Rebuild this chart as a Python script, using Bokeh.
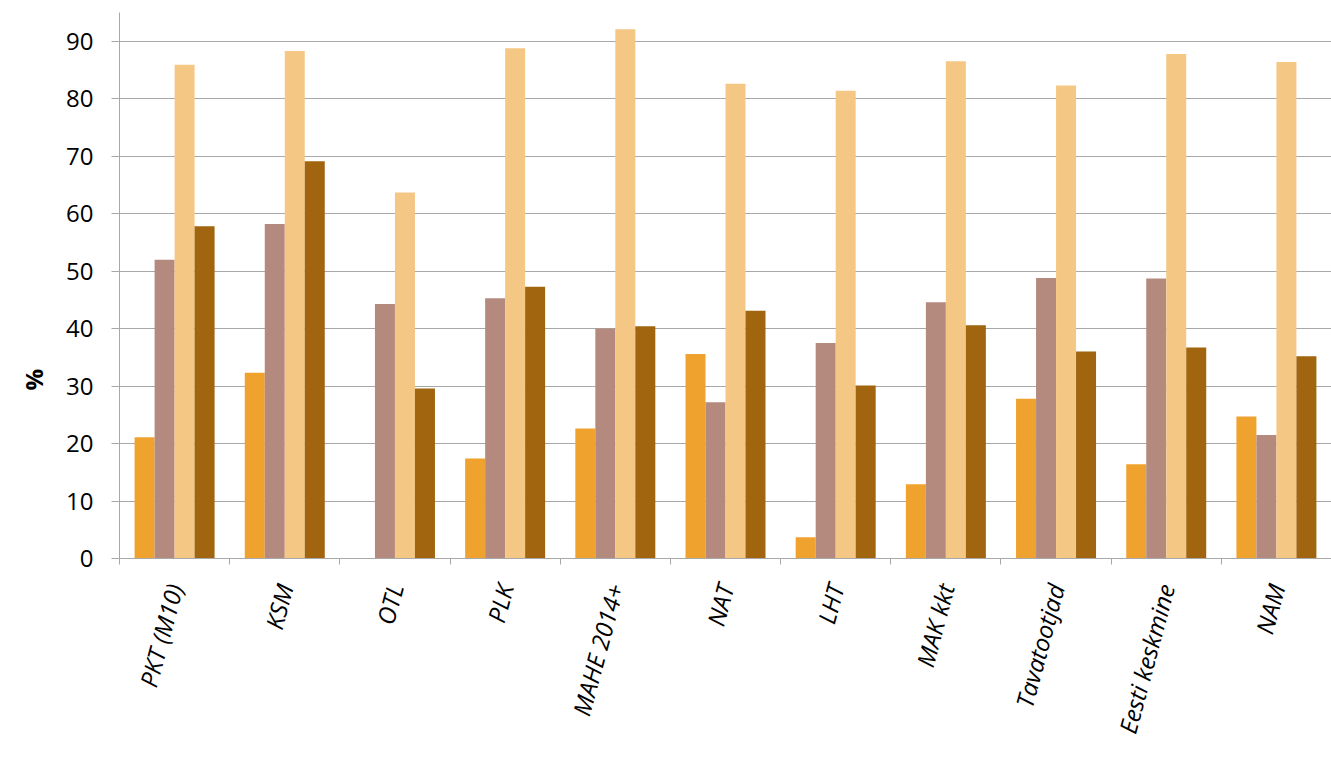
import math
from bokeh.plotting import figure
from bokeh.models import ColumnDataSource, FixedTicker, Legend, LegendItem, Range1d, Title
from bokeh.embed import file_html
from bokeh.resources import INLINE

categories = ["PKT (M10)", "KSM", "OTL", "PLK", "MAHE 2014+", "NAT", "LHT",
              "MAK kkt", "Tavatootjad", "Eesti keskmine", "NAM"]
series_names = ["Väiketootjad", "Keskmise suurusega tootjad", "Suurtootjad", "Kõik"]
vaike = [21.1, 32.3, 0.0, 17.4, 22.6, 35.6, 3.7, 12.9, 27.8, 16.4, 24.7]
keskmine = [52.0, 58.2, 44.3, 45.3, 40.0, 27.2, 37.5, 44.6, 48.8, 48.7, 21.5]
suur = [85.9, 88.3, 63.7, 88.8, 92.1, 82.6, 81.4, 86.5, 82.3, 87.8, 86.4]
koik = [57.8, 69.1, 29.6, 47.3, 40.4, 43.1, 30.1, 40.6, 36.0, 36.7, 35.2]
y_ticks = [0, 10, 20, 30, 40, 50, 60, 70, 80, 90]

colors = ["#F0A22E", "#B58A7E", "#F5C785", "#A0650E"]
series = [vaike, keskmine, suur, koik]

FONT = "Open Sans"
n = len(categories)
bw = 0.1815
offsets = [-1.5 * bw, -0.5 * bw, 0.5 * bw, 1.5 * bw]

p = figure(frame_width=1212, frame_height=546, output_backend="svg", toolbar_location=None,
           x_range=Range1d(0, n), y_range=Range1d(0, 95),
           min_border_left=119, min_border_right=0, min_border_top=12,
           min_border_bottom=0)
p.outline_line_color = None
p.background_fill_color = "white"
p.border_fill_color = "white"

renderers = []
for vals, col, off in zip(series, colors, offsets):
    src = ColumnDataSource(dict(x=[i + 0.5 + off for i in range(n)], top=vals))
    r = p.vbar(x="x", top="top", bottom=0, width=bw, source=src,
               fill_color=col, line_color=None)
    renderers.append(r)

# grid
p.xgrid.grid_line_color = None
p.ygrid.ticker = FixedTicker(ticks=y_ticks)
p.ygrid.grid_line_color = "#A8A8A8"
p.ygrid.grid_line_width = 1

# y axis
yax = p.yaxis[0]
yax.ticker = FixedTicker(ticks=y_ticks)
yax.axis_line_color = "#A8A8A8"
yax.major_tick_line_color = "#A8A8A8"
yax.major_tick_out = 8
yax.major_tick_in = 0
yax.minor_tick_line_color = None
yax.major_label_text_font = FONT
yax.major_label_text_font_size = "24px"
yax.major_label_text_color = "#000000"
yax.major_label_standoff = 18

ytitle = Title(text="%", align="left", offset=168, standoff=28,
               text_font=FONT, text_font_style="bold", text_font_size="24px",
               text_color="#000000")
p.add_layout(ytitle, "left")

# x axis
xax = p.xaxis[0]
centers = [i + 0.5 for i in range(n)]
xax.ticker = FixedTicker(ticks=centers, minor_ticks=list(range(n + 1)))
xax.major_label_overrides = {c: lab for c, lab in zip(centers, categories)}
xax.axis_line_color = "#A8A8A8"
xax.major_tick_line_color = None
xax.major_tick_out = 0
xax.major_tick_in = 0
xax.minor_tick_line_color = "#A8A8A8"
xax.minor_tick_out = 6
xax.minor_tick_in = 0
xax.major_label_orientation = math.radians(75)
xax.major_label_text_font = FONT
xax.major_label_text_font_style = "italic"
xax.major_label_text_font_size = "24px"
xax.major_label_text_color = "#000000"
xax.major_label_standoff = 20

legend = Legend(items=[LegendItem(label=nm, renderers=[r]) for nm, r in zip(series_names, renderers)],
                orientation="horizontal", location=(56, 0))
legend.label_text_font = FONT
legend.label_text_font_size = "23px"
legend.label_text_color = "#000000"
legend.glyph_width = 15
legend.glyph_height = 15
legend.label_standoff = 13
legend.spacing = 116
legend.border_line_color = None
legend.background_fill_alpha = 0
legend.padding = 0
legend.margin = 0
p.add_layout(legend, "below")

open("out.html", "w").write(file_html(p, INLINE))
